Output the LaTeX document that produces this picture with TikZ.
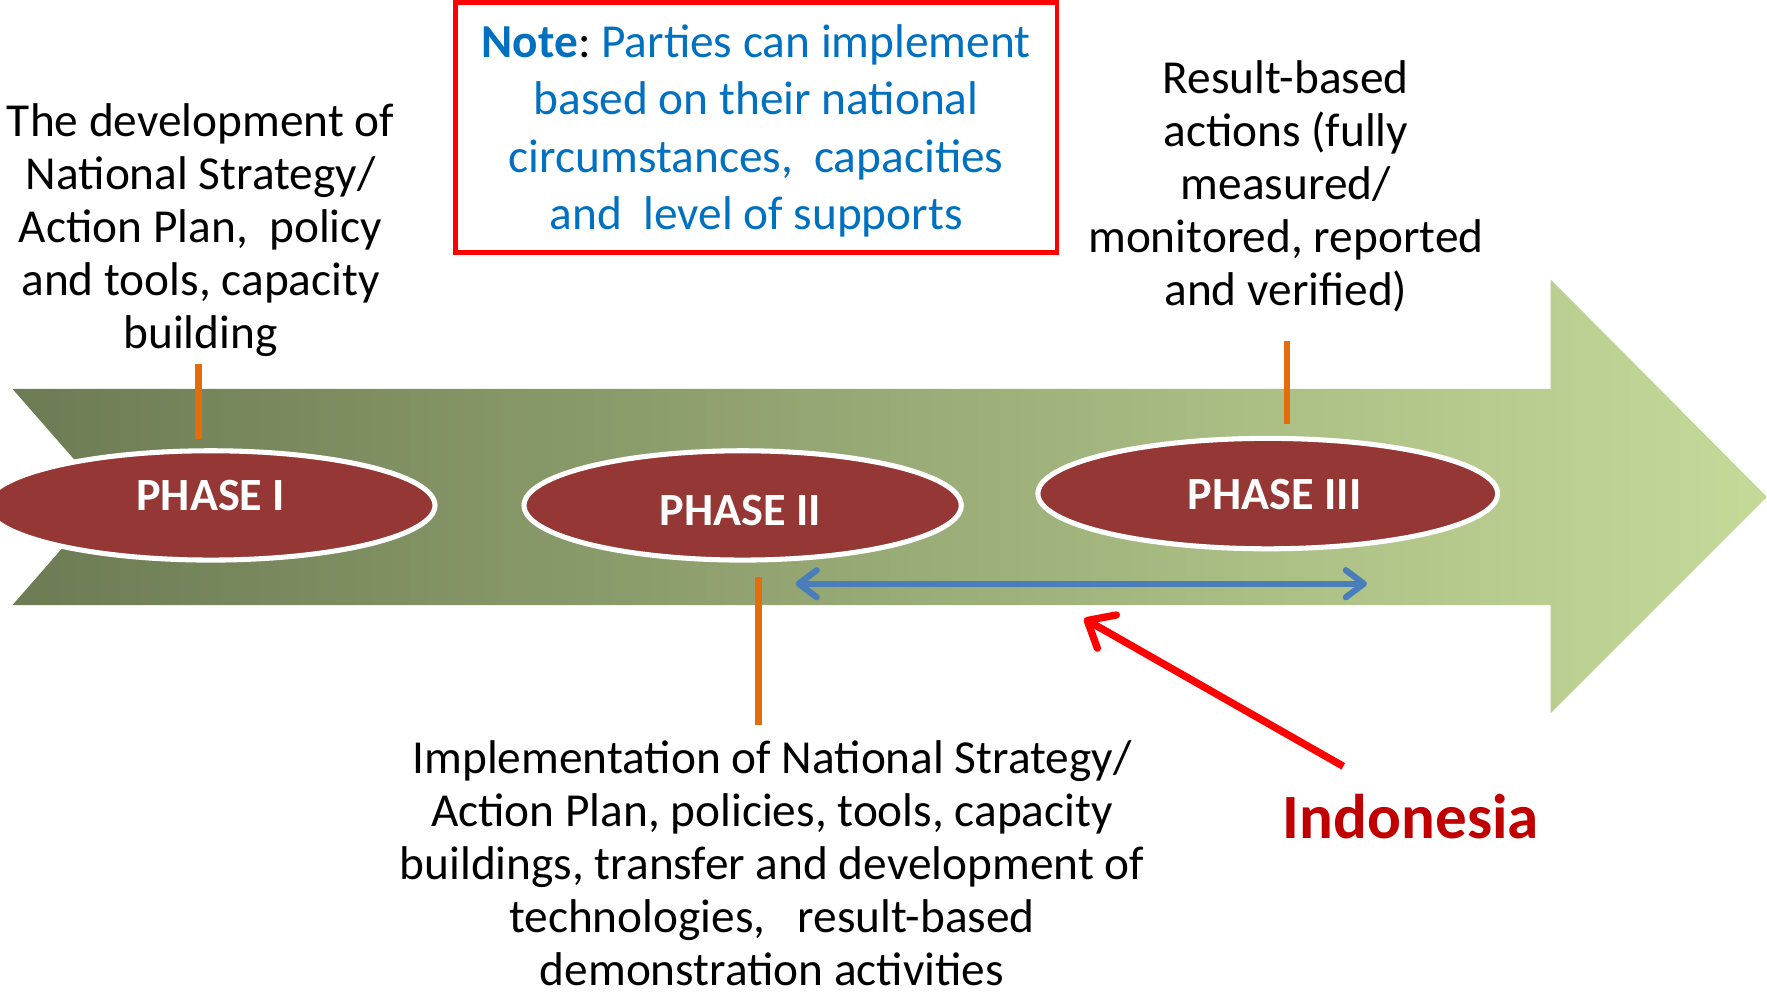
\documentclass[tikz,border=0pt]{standalone}
\usepackage{fontspec}
\setmainfont{Carlito}
\usetikzlibrary{arrows.meta,shapes.geometric}
\definecolor{bandDark}{RGB}{108,123,83}
\definecolor{bandLight}{RGB}{197,218,153}
\definecolor{phaseRed}{RGB}{149,55,53}
\definecolor{tickOrange}{RGB}{228,108,10}
\definecolor{spanBlue}{RGB}{74,126,187}
\definecolor{noteBlue}{RGB}{0,112,192}
\definecolor{countryRed}{RGB}{192,0,0}
\tikzset{
  phase/.style={ellipse, fill=phaseRed, draw=white, line width=4.5pt, inner sep=0pt},
  phasetext/.style={text=white, font=\fontsize{41}{47}\selectfont\bfseries, inner sep=0pt},
  body/.style={align=center, inner sep=0pt, font=\fontsize{42}{47}\selectfont},
  tick/.style={draw=tickOrange, line width=6pt},
  span/.style={draw=spanBlue, line width=5.5pt,
    {Straight Barb[length=16pt,width=24pt,round]}-{Straight Barb[length=16pt,width=24pt,round]}},
  pointer/.style={draw=red, line width=6.5pt, -{Straight Barb[length=20pt,width=34pt,round]}},
}
\begin{document}
\begin{tikzpicture}[x=1pt,y=-1pt]
\useasboundingbox (0,0) rectangle (1568,882);

% timeline band with notched tail and arrow head
\shade[left color=bandDark, right color=bandLight]
  (11,345) -- (1376,345) -- (1376,248) -- (1568,441) -- (1376,633)
  -- (1376,537) -- (11,537) -- (95,441) -- cycle;

% note box
\node[draw=red, line width=4pt, minimum width=534pt, minimum height=222pt,
      inner sep=0pt] (note) at (671,113) {};
\node[inner sep=0pt, align=center, text=noteBlue,
      font=\fontsize{42}{51}\selectfont] (notetext) at (671,116)
  {\textbf{Note}{\color{black}:}~Parties can implement\\
   based on their national\\
   circumstances,\ \ capacities\\
   and\ \ level of supports};

% phase descriptions
\node[body] (d1) at (178,204) {The development of\\National Strategy/\\Action Plan,\ \ policy\\and tools, capacity\\building};
\node[body] (d3) at (1141,165.5) {Result-based\\actions (fully\\measured/\\monitored, reported\\and verified)};
\node[body] (d2) at (685,766) {Implementation of National Strategy/\\Action Plan, policies, tools, capacity\\buildings, transfer and development of\\technologies,\ \ \ result-based\\demonstration activities};

% phases
\node[phase, minimum width=398pt, minimum height=97pt] (p1) at (187,448.5) {};
\node[phase, minimum width=388pt, minimum height=97pt] (p2) at (659,448.5) {};
\node[phase, minimum width=408pt, minimum height=98pt] (p3) at (1125,438) {};
\node[phasetext] (t1) at (187,440) {PHASE I};
\node[phasetext] (t2) at (657,453) {PHASE II};
\node[phasetext] (t3) at (1131,439) {PHASE III};

% orange ticks between descriptions and phases
\coordinate (k1a) at (176,323);  \coordinate (k1b) at (176,390);
\coordinate (k2a) at (673,512);  \coordinate (k2b) at (673,643);
\coordinate (k3a) at (1142,303); \coordinate (k3b) at (1142,376);
\draw[tick] (k1a) -- (k1b);
\draw[tick] (k2a) -- (k2b);
\draw[tick] (k3a) -- (k3b);

% span between phase II and phase III
\coordinate (s1) at (706,518); \coordinate (s2) at (1213,518);
\draw[span] (s1) -- (s2);

% Indonesia pointer
\node[text=countryRed, inner sep=0pt, font=\fontsize{56}{60}\selectfont\bfseries] (ind) at (1252,725) {Indonesia};
\coordinate (r1) at (1192,680); \coordinate (r2) at (962,549);
\draw[pointer] (r1) -- (r2);
\end{tikzpicture}
\end{document}
